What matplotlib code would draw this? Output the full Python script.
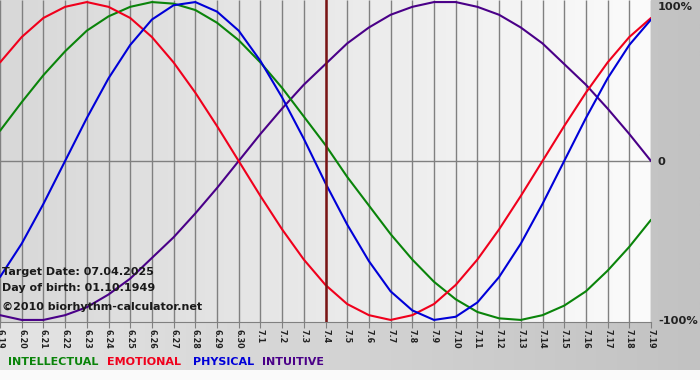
import numpy as np
import matplotlib
matplotlib.use("Agg")
import matplotlib.pyplot as plt
from matplotlib.colors import LinearSegmentedColormap


# x axis: one label per day (month.day)
DAYS = ["6.19", "6.20", "6.21", "6.22", "6.23", "6.24", "6.25", "6.26", "6.27", "6.28",
        "6.29", "6.30", "7.1", "7.2", "7.3", "7.4", "7.5", "7.6", "7.7", "7.8", "7.9",
        "7.10", "7.11", "7.12", "7.13", "7.14", "7.15", "7.16", "7.17", "7.18", "7.19"]

# cycle values per day (-1 .. 1)
INTELLECTUAL = [0.19, 0.37, 0.54, 0.69, 0.82, 0.91, 0.97, 1.00, 0.99, 0.95, 0.87, 0.76,
                0.62, 0.46, 0.28, 0.10, -0.10, -0.28, -0.46, -0.62, -0.76, -0.87, -0.95,
                -0.99, -1.00, -0.97, -0.91, -0.82, -0.69, -0.54, -0.37]
EMOTIONAL = [0.62, 0.78, 0.90, 0.97, 1.00, 0.97, 0.90, 0.78, 0.62, 0.43, 0.22, 0.00,
             -0.22, -0.43, -0.62, -0.78, -0.90, -0.97, -1.00, -0.97, -0.90, -0.78, -0.62,
             -0.43, -0.22, 0.00, 0.22, 0.43, 0.62, 0.78, 0.90]
PHYSICAL = [-0.73, -0.52, -0.27, 0.00, 0.27, 0.52, 0.73, 0.89, 0.98, 1.00, 0.94, 0.82,
            0.63, 0.40, 0.14, -0.14, -0.40, -0.63, -0.82, -0.94, -1.00, -0.98, -0.89,
            -0.73, -0.52, -0.27, 0.00, 0.27, 0.52, 0.73, 0.89]
INTUITIVE = [-0.97, -1.00, -1.00, -0.97, -0.92, -0.84, -0.74, -0.61, -0.48, -0.33, -0.17,
             0.00, 0.17, 0.33, 0.48, 0.61, 0.74, 0.84, 0.92, 0.97, 1.00, 1.00, 0.97, 0.92,
             0.84, 0.74, 0.61, 0.48, 0.33, 0.17, 0.00]

TARGET_DAY = "7.4"
INFO_LINES = ["Target Date: 07.04.2025", "Day of birth: 01.10.1949",
              "\u00a92010 biorhythm-calculator.net"]
Y_TICKS = [1.0, 0.0, -1.0]
Y_LABELS = ["100%", "0", "-100%"]

COLORS = {
    "INTELLECTUAL": "#0a840a",
    "EMOTIONAL": "#f0001c",
    "PHYSICAL": "#0000d8",
    "INTUITIVE": "#4a0088",
}

W, H = 700, 380


def px(x, y):
    """pixel (from top-left) -> figure fraction"""
    return x / W, 1 - y / H


plt.rcParams.update({
    "font.family": "DejaVu Sans",
    "font.size": 8,
})

fig = plt.figure(figsize=(W / 100, H / 100), dpi=100)

# figure background: horizontal grey gradient, white strip at the bottom
bg = fig.add_axes([0, 0, 1, 1], zorder=-10)
bg_cmap = LinearSegmentedColormap.from_list("bg", ["#e4e4e4", "#c2c2c2"])
bg.imshow(np.linspace(0, 1, 256)[None, :], cmap=bg_cmap, aspect="auto",
          extent=[0, 1, 0, 1])
bg.axhspan(0, 10 / H, color="#fafafa", lw=0)
bg.set_xlim(0, 1)
bg.set_ylim(0, 1)
bg.axis("off")

# plot area
ax = fig.add_axes([0, 58 / H, 651 / W, 322 / H])
ax.patch.set_alpha(0)
x = np.arange(len(DAYS))
ylim = 1.013
plot_cmap = LinearSegmentedColormap.from_list("plot", ["#d8d8d8", "#fbfbfb"])
ax.imshow(np.linspace(0, 1, 256)[None, :], cmap=plot_cmap, aspect="auto",
          extent=[x[0], x[-1], -ylim, ylim], zorder=0)

ax.vlines(x, -ylim, ylim, color="#808080", lw=1.0, zorder=1)
ax.axhline(0, color="#808080", lw=1.0, zorder=1)

for name, vals in [("INTUITIVE", INTUITIVE), ("INTELLECTUAL", INTELLECTUAL),
                   ("EMOTIONAL", EMOTIONAL), ("PHYSICAL", PHYSICAL)]:
    ax.plot(x, vals, color=COLORS[name], lw=1.5, zorder=3, solid_capstyle="round",
            solid_joinstyle="round")

ax.axvline(DAYS.index(TARGET_DAY), color="#7a1414", lw=1.8, zorder=4)

ax.set_xlim(x[0], x[-1])
ax.set_ylim(-ylim, ylim)
for s in ["left", "top", "right"]:
    ax.spines[s].set_visible(False)
ax.spines["bottom"].set_color("#808080")

ax.set_xticks(x)
ax.set_xticklabels(DAYS, rotation=270, fontsize=5.8, fontweight="bold", color="#222222")
ax.tick_params(axis="x", length=4, color="#808080", pad=1)

ax.yaxis.set_ticks_position("right")
ax.set_yticks(Y_TICKS)
ax.set_yticklabels(Y_LABELS, fontsize=8.2, fontweight="bold", color="#222222")
ax.tick_params(axis="y", length=0, pad=5)
ax.get_yticklabels()[0].set_va("top")

# info text in the lower-left corner
for txt, ypix in zip(INFO_LINES, [272, 288, 307]):
    fig.text(*px(2, ypix), txt, fontsize=8.0, fontweight="bold", color="#1a1a1a",
             va="center", ha="left")

# legend row
for name, xpix in zip(COLORS, [8, 107, 193, 262]):
    fig.text(*px(xpix, 362), name, fontsize=8.0, fontweight="bold",
             color=COLORS[name], va="center", ha="left")

fig.savefig("out.png", dpi=100)
plt.close(fig)
